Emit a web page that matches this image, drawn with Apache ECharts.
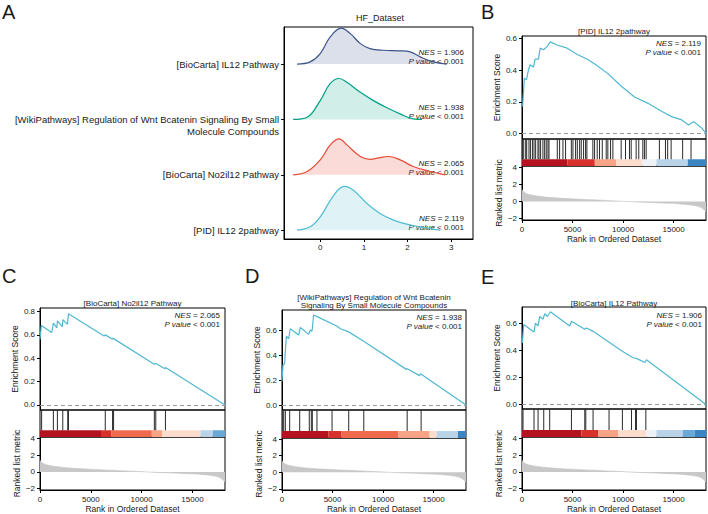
<!DOCTYPE html>
<html>
<head>
<meta charset="utf-8">
<script src="https://cdn.jsdelivr.net/npm/echarts@6/dist/echarts.min.js"></script>
<style>
  html, body { margin: 0; padding: 0; background: #fff; }
  #main { width: 708px; height: 514px; }
</style>
</head>
<body>
<div id="main"></div>
<script>
const F = '"Liberation Sans", Arial, Helvetica, sans-serif'
const TXT = '#1a1a1a'

// ---- panel A: ridge densities, [x, height above baseline], bottom -> top
const ridgeNames = [
  '[PID] IL12 2pathway',
  '[BioCarta] No2il12 Pathway',
  '[WikiPathways] Regulation of Wnt Bcatenin Signaling By Small\nMolecule Compounds',
  '[BioCarta] IL12 Pathway'
]
const ridgeNES = ['2.119', '2.065', '1.938', '1.906']
const ridgeTicks = [0, 1, 2, 3]
const densPID = [[-0.53, 0], [-0.23, 0.06], [0, 0.24], [0.31, 0.63], [0.55, 0.79], [0.76, 0.72], [1.07, 0.48], [1.37, 0.30], [1.68, 0.18], [1.98, 0.11], [2.29, 0.06], [2.75, 0]]
const densNo2il12 = [[-0.62, 0], [-0.3, 0.06], [0, 0.27], [0.23, 0.54], [0.43, 0.65], [0.61, 0.54], [0.92, 0.33], [1.14, 0.28], [1.37, 0.31], [1.56, 0.33], [1.83, 0.27], [2.13, 0.15], [2.52, 0.06], [2.86, 0]]
const densWnt = [[-0.62, 0], [-0.3, 0.04], [0, 0.34], [0.23, 0.65], [0.43, 0.74], [0.61, 0.67], [0.92, 0.49], [1.22, 0.34], [1.53, 0.21], [1.83, 0.10], [2.13, 0.01], [2.33, 0]]
const densIL12 = [[-0.53, 0], [-0.23, 0.04], [0, 0.19], [0.23, 0.49], [0.48, 0.65], [0.69, 0.55], [0.92, 0.37], [1.14, 0.28], [1.45, 0.25], [1.83, 0.24], [2.06, 0.22], [2.29, 0.13], [2.59, 0.04], [2.9, 0]]
const ridgeData = [densPID, densNo2il12, densWnt, densIL12]

// ---- GSEA panels (rank, value)
const rankTicks = [0, 5000, 10000, 15000]
const metricTicks = [-2, 0, 2, 4]
const rankedMetric = [[0, 1.4], [150, 1.15], [400, 0.95], [800, 0.8], [1500, 0.65], [2600, 0.5], [4000, 0.38], [5800, 0.27], [7500, 0.18], [9200, 0.08], [10500, 0], [12400, -0.1], [14000, -0.18], [15700, -0.28], [16700, -0.4], [17400, -0.55], [17800, -0.75], [18200, -1.2]]

const esB = [[60, 0.17], [230, 0.35], [450, 0.34], [630, 0.40], [800, 0.435], [1130, 0.42], [1300, 0.47], [1630, 0.47], [1800, 0.54], [2130, 0.53], [2470, 0.55], [2800, 0.58], [3470, 0.56], [4470, 0.54], [5470, 0.50], [6470, 0.47], [7300, 0.435], [8470, 0.38], [9800, 0.30], [11130, 0.23], [12470, 0.19], [13800, 0.14], [14800, 0.106], [15800, 0.085], [16470, 0.053], [16970, 0.074], [17800, 0.032], [18200, 0]]
const hitsB = [40, 170, 365, 465, 690, 830, 1030, 1190, 1350, 1580, 1680, 1840, 2070, 2240, 2400, 2570, 2670, 3490, 3720, 4050, 4310, 4880, 5040, 5300, 5470, 5700, 5860, 6090, 6290, 6420, 7010, 7180, 7440, 7670, 7940, 8330, 8490, 8760, 8990, 9810, 10240, 10630, 10800, 11290, 11550, 11950, 12110, 12280, 13590, 14190, 14410, 14750, 15890, 16720]
const barB = [[0, 4500, 0], [4500, 7200, 1], [7200, 9300, 3], [9300, 11900, 4], [11900, 13300, 5], [13300, 16400, 6], [16400, 18200, 8]]

const esC = [[0, 0.56], [130, 0.68], [1150, 0.62], [1320, 0.70], [1650, 0.66], [1720, 0.72], [2200, 0.67], [2250, 0.73], [2700, 0.69], [2800, 0.78], [6300, 0.59], [6420, 0.60], [7100, 0.565], [7200, 0.57], [11200, 0.35], [11400, 0.355], [12300, 0.31], [12350, 0.32], [18200, 0]]
const hitsC = [160, 1315, 1710, 2240, 2730, 2800, 6420, 7140, 7240, 11250, 11390, 12340]
const barC = [[0, 6000, 0], [6000, 7000, 1], [7000, 11000, 2], [11000, 12000, 3], [12000, 15800, 4], [15800, 17000, 6], [17000, 18200, 7]]

const esD = [[0, 0.19], [100, 0.32], [260, 0.33], [330, 0.43], [430, 0.55], [660, 0.53], [820, 0.61], [1650, 0.56], [1810, 0.62], [2640, 0.565], [2800, 0.60], [2970, 0.59], [3130, 0.72], [3530, 0.705], [5450, 0.63], [5770, 0.61], [6600, 0.585], [8080, 0.51], [12300, 0.285], [12400, 0.29], [13600, 0.235], [13700, 0.25], [18200, 0]]
const hitsD = [70, 170, 330, 760, 1750, 2700, 2900, 3000, 3460, 4950, 6600, 8090, 12380, 13760]
const barD = [[0, 4600, 0], [4600, 5900, 1], [5900, 11500, 2], [11500, 14600, 3], [14600, 15300, 4], [15300, 17400, 6], [17400, 18200, 8]]

const esE = [[40, 0.455], [170, 0.59], [1190, 0.535], [1320, 0.60], [1590, 0.58], [1750, 0.65], [2080, 0.63], [2250, 0.67], [2510, 0.65], [2810, 0.685], [4720, 0.58], [4890, 0.615], [6210, 0.555], [6370, 0.565], [7030, 0.54], [10000, 0.39], [10990, 0.345], [11320, 0.34], [12150, 0.31], [12310, 0.33], [18200, 0]]
const hitsE = [100, 1190, 1590, 2150, 2740, 4890, 6210, 6310, 7030, 8610, 9930, 10830, 11230, 11320, 12250]
const barE = [[0, 5880, 0], [5880, 7530, 1], [7530, 9510, 3], [9510, 12300, 4], [12300, 13300, 5], [13300, 15900, 6], [15900, 17100, 7], [17100, 18200, 8]]

// styling
const RMAX = 18200
const ridgeLine = ['#4DBBD5', '#E64B35', '#00A087', '#3C5488']
const ridgeFill = ['rgba(77,187,213,0.18)', 'rgba(230,75,53,0.2)', 'rgba(0,160,135,0.18)', 'rgba(60,84,136,0.18)']
const barColors = ['#B4121E', '#D8302B', '#F06A4E', '#F7A486', '#FCDCCD', '#EEF2F7', '#B9D3E8', '#6AA8D6', '#3C85C3']
const BAR_TOP = 0.25

const panels = [
  { es: esB, hits: hitsB, bar: barB, nes: '2.119', title: '[PID] IL12 2pathway',
    left: 522, width: 184, top: 36, esBottom: 139, hitBottom: 166, rankBottom: 220,
    esMin: -0.036, esMax: 0.617, esTicks: [0, 0.2, 0.4, 0.6],
    letter: 'B', letterX: 481, letterY: 12, titleY: 31, nesX: 701, nesY: 43 },
  { es: esC, hits: hitsC, bar: barC, nes: '2.065', title: '[BioCarta] No2il12 Pathway',
    left: 40, width: 185, top: 308, esBottom: 410, hitBottom: 437, rankBottom: 490,
    esMin: -0.043, esMax: 0.83, esTicks: [0, 0.2, 0.4, 0.6, 0.8],
    letter: 'C', letterX: 2, letterY: 276, titleY: 303, nesX: 220, nesY: 315 },
  { es: esD, hits: hitsD, bar: barD, nes: '1.938', title: '[WikiPathways] Regulation of Wnt Bcatenin\nSignaling By Small Molecule Compounds',
    left: 282, width: 184, top: 310, esBottom: 410, hitBottom: 438, rankBottom: 490,
    esMin: -0.04, esMax: 0.76, esTicks: [0, 0.2, 0.4, 0.6],
    letter: 'D', letterX: 245, letterY: 276, titleY: 301, nesX: 462, nesY: 317 },
  { es: esE, hits: hitsE, bar: barE, nes: '1.906', title: '[BioCarta] IL12 Pathway',
    left: 522, width: 184, top: 307, esBottom: 409, hitBottom: 437, rankBottom: 490,
    esMin: -0.034, esMax: 0.72, esTicks: [0, 0.2, 0.4, 0.6],
    letter: 'E', letterX: 481, letterY: 277, titleY: 303, nesX: 702, nesY: 315 }
]

const axisText = { color: TXT, fontFamily: F, fontSize: 8 }
const blackLine = { show: true, onZero: false, lineStyle: { color: '#000', width: 1 } }
const frame = { show: true, borderColor: '#000', borderWidth: 1, backgroundColor: 'transparent', containLabel: false, outerBoundsMode: 'none' }

const grid = []
const xAxis = []
const yAxis = []
const series = []
const graphic = []

function text(x, y, str, opt) {
  graphic.push({
    type: 'text', x: x, y: y, silent: true,
    style: Object.assign({ text: str, fill: TXT, fontFamily: F, fontSize: 8, align: 'center', verticalAlign: 'middle' }, opt || {})
  })
}
function nesText(x, y, nes) {
  const tok = { fontFamily: F, fontSize: 8, fill: TXT, lineHeight: 9 }
  text(x, y, '{i|NES}{n| = ' + nes + '}\n{i|P value}{n| < 0.001}', {
    align: 'right', lineHeight: 9,
    rich: { i: Object.assign({ fontStyle: 'italic' }, tok), n: tok }
  })
}

// ---- panel A
grid.push(Object.assign({ left: 284, top: 27, width: 189, height: 212 }, frame))
xAxis.push({
  gridIndex: 0, type: 'value', min: -0.83, max: 3.5,
  axisLine: blackLine, axisTick: { show: true, length: 3, customValues: ridgeTicks, lineStyle: { color: '#000' } },
  axisLabel: Object.assign({ customValues: ridgeTicks, margin: 4 }, axisText),
  splitLine: { show: false }
})
yAxis.push({
  gridIndex: 0, type: 'value', min: 0.84, max: 4.67,
  axisLine: blackLine, axisTick: { show: true, length: 3, customValues: [1, 2, 3, 4], lineStyle: { color: '#000' } },
  axisLabel: Object.assign({}, axisText, {
    customValues: [1, 2, 3, 4], fontSize: 9.5, lineHeight: 12, margin: 5, align: 'right',
    formatter: function (v) {
      const name = ridgeNames[Math.round(v) - 1]
      return name.indexOf('\n') >= 0 ? ' \n' + name : name
    }
  }),
  splitLine: { show: false }
})
ridgeData.forEach(function (d, i) {
  const base = i + 1
  series.push({
    type: 'line', xAxisIndex: 0, yAxisIndex: 0, smooth: 0.4, showSymbol: false, silent: true,
    data: d.map(function (p) { return [p[0], base + p[1]] }),
    lineStyle: { color: ridgeLine[i], width: 1.2 },
    itemStyle: { color: ridgeLine[i] },
    areaStyle: { color: ridgeFill[i], origin: base, opacity: 1 },
    z: 10 - i
  })
})
text(380, 18, 'HF_Dataset', { fontSize: 9 })
text(2, 12, 'A', { fontSize: 20, align: 'left' })
;[230, 175, 119, 64].forEach(function (b, i) { nesText(464, b - 7.5, ridgeNES[i]) })

// ---- GSEA panels B..E
panels.forEach(function (p) {
  const gi = grid.length
  grid.push(Object.assign({ left: p.left, top: p.top, width: p.width, height: p.esBottom - p.top }, frame))
  grid.push(Object.assign({ left: p.left, top: p.esBottom, width: p.width, height: p.hitBottom - p.esBottom }, frame))
  grid.push(Object.assign({ left: p.left, top: p.hitBottom, width: p.width, height: p.rankBottom - p.hitBottom }, frame))

  xAxis.push({ gridIndex: gi, type: 'value', min: 0, max: RMAX, show: false })
  xAxis.push({ gridIndex: gi + 1, type: 'value', min: 0, max: RMAX, show: false })
  xAxis.push({
    gridIndex: gi + 2, type: 'value', min: 0, max: RMAX,
    axisLine: blackLine, axisTick: { show: true, length: 3, customValues: rankTicks, lineStyle: { color: '#000' } },
    axisLabel: Object.assign({ customValues: rankTicks, margin: 5, formatter: function (v) { return String(v) } }, axisText),
    splitLine: { show: false },
    name: 'Rank in Ordered Dataset', nameLocation: 'middle', nameGap: 14,
    nameTextStyle: { color: TXT, fontFamily: F, fontSize: 8.5 }
  })
  yAxis.push({
    gridIndex: gi, type: 'value', min: p.esMin, max: p.esMax,
    axisLine: blackLine, axisTick: { show: true, length: 3, customValues: p.esTicks, lineStyle: { color: '#000' } },
    axisLabel: Object.assign({ customValues: p.esTicks, margin: 5, formatter: function (v) { return v.toFixed(1) } }, axisText),
    splitLine: { show: false },
    name: 'Enrichment Score', nameLocation: 'middle', nameGap: 16,
    nameTextStyle: { color: TXT, fontFamily: F, fontSize: 8.5 }
  })
  yAxis.push({ gridIndex: gi + 1, type: 'value', min: 0, max: 1, show: false })
  yAxis.push({
    gridIndex: gi + 2, type: 'value', min: -2.15, max: 4.15,
    axisLine: blackLine, axisTick: { show: true, length: 3, customValues: metricTicks, lineStyle: { color: '#000' } },
    axisLabel: Object.assign({ customValues: metricTicks, margin: 5, formatter: function (v) { return String(v).replace('-', '\u2212') } }, axisText),
    splitLine: { show: false },
    name: 'Ranked list metric', nameLocation: 'middle', nameGap: 16,
    nameTextStyle: { color: TXT, fontFamily: F, fontSize: 8.5 }
  })

  // running enrichment score
  series.push({
    type: 'line', xAxisIndex: gi, yAxisIndex: gi, showSymbol: false, silent: true,
    data: p.es,
    lineStyle: { color: '#4FB8D0', width: 1.2 }, itemStyle: { color: '#4FB8D0' },
    markLine: {
      silent: true, symbol: ['none', 'none'], label: { show: false },
      lineStyle: { color: '#9a9a9a', type: [4, 3], width: 1 },
      data: [{ yAxis: 0 }]
    },
    z: 5
  })
  // colour bar of ranked list
  series.push({
    type: 'custom', xAxisIndex: gi + 1, yAxisIndex: gi + 1, silent: true,
    data: p.bar, encode: { x: [0, 1] },
    renderItem: function (params, api) {
      const a = api.coord([api.value(0), BAR_TOP])
      const b = api.coord([api.value(1), 0])
      return { type: 'rect', shape: { x: a[0], y: a[1], width: b[0] - a[0], height: b[1] - a[1] },
        style: { fill: barColors[api.value(2)] } }
    }
  })
  // gene set hits
  series.push({
    type: 'custom', xAxisIndex: gi + 1, yAxisIndex: gi + 1, silent: true,
    data: p.hits.map(function (r) { return [r] }), encode: { x: 0 },
    renderItem: function (params, api) {
      const a = api.coord([api.value(0), 1])
      const b = api.coord([api.value(0), BAR_TOP])
      return { type: 'line', shape: { x1: a[0], y1: a[1], x2: b[0], y2: b[1] },
        style: { stroke: '#2a2a2a', lineWidth: 1 } }
    }
  })
  // ranked list metric
  series.push({
    type: 'line', xAxisIndex: gi + 2, yAxisIndex: gi + 2, showSymbol: false, silent: true, smooth: 0.3,
    data: rankedMetric,
    lineStyle: { color: '#c4c4c4', width: 0.6 }, itemStyle: { color: '#c4c4c4' },
    areaStyle: { color: '#c8c8c8', origin: 0, opacity: 1 }
  })

  text(p.left + p.width / 2, p.titleY, p.title, { lineHeight: 8 })
  text(p.letterX, p.letterY, p.letter, { fontSize: 20, align: 'left' })
  nesText(p.nesX, p.nesY + 4.5, p.nes)
})

const chart = echarts.init(document.getElementById('main'), null, { renderer: 'svg' })
chart.setOption({
  animation: false,
  backgroundColor: '#fff',
  textStyle: { fontFamily: F },
  grid: grid,
  xAxis: xAxis,
  yAxis: yAxis,
  series: series,
  graphic: graphic
})
</script>
</body>
</html>
